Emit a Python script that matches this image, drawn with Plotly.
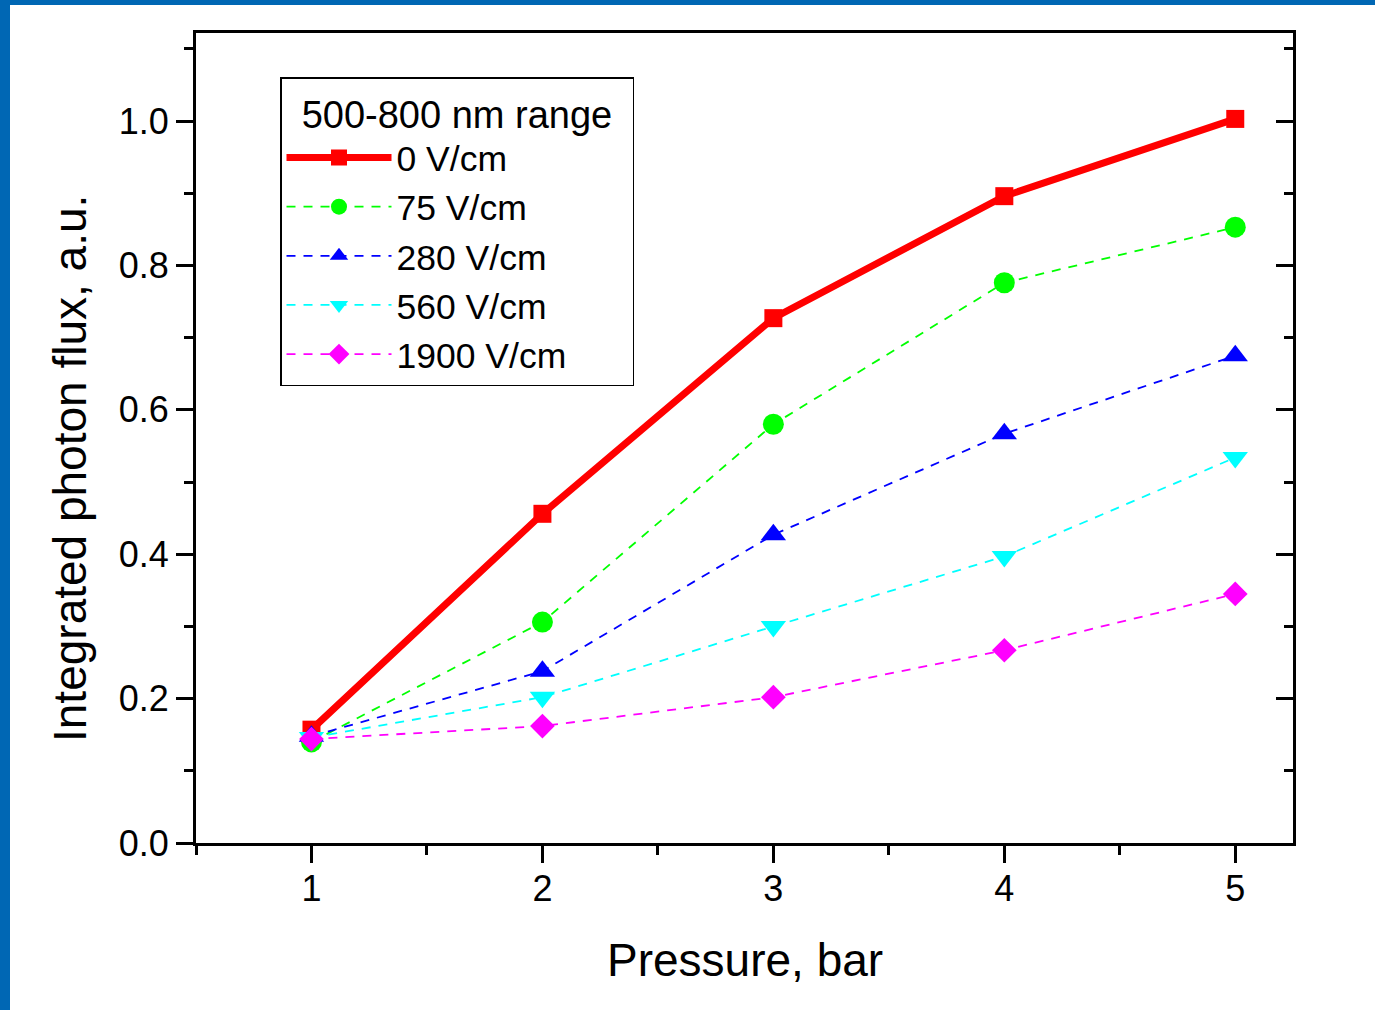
import plotly.graph_objects as go

pressure = [1, 2, 3, 4, 5]
series_names = ["0 V/cm", "75 V/cm", "280 V/cm", "560 V/cm", "1900 V/cm"]
flux_0 = [0.157, 0.456, 0.727, 0.896, 1.003]
flux_75 = [0.140, 0.306, 0.580, 0.776, 0.853]
flux_280 = [0.148, 0.238, 0.427, 0.567, 0.675]
flux_560 = [0.146, 0.202, 0.300, 0.397, 0.534]
flux_1900 = [0.144, 0.162, 0.202, 0.267, 0.345]
legend_title = "500-800 nm range"
x_title = "Pressure, bar"
y_title = "Integrated photon flux, a.u."

W, H = 1375, 1010
L, R, T, B = 196, 1293, 33, 843
FONT = "Arial, Liberation Sans, sans-serif"

styles = [
    dict(color="#FF0000", width=7, dash="solid", symbol="square", size=18),
    dict(color="#00FF00", width=1.8, dash="9px,8px", symbol="circle", size=21),
    dict(color="#0000FF", width=1.8, dash="9px,8px", symbol="triangle-up", size=22),
    dict(color="#00FFFF", width=1.8, dash="9px,8px", symbol="triangle-down", size=22),
    dict(color="#FF00FF", width=1.8, dash="9px,8px", symbol="diamond", size=19),
]
data = [flux_0, flux_75, flux_280, flux_560, flux_1900]

fig = go.Figure()
for name, ys, st in zip(series_names, data, styles):
    fig.add_trace(go.Scatter(
        x=pressure, y=ys, name=name, mode="lines+markers",
        line=dict(color=st["color"], width=st["width"], dash=st["dash"]),
        marker=dict(symbol=st["symbol"], size=st["size"], color=st["color"], line=dict(width=0)),
    ))
# empty trace to activate right-side mirrored tick axis
fig.add_trace(go.Scatter(x=[], y=[], yaxis="y2", showlegend=False, hoverinfo="skip"))

pw = R - L
ph = B - T
xmin, xmax = 0.5, 5.25
ymin, ymax = 0.0, 1.122

axis_common = dict(showgrid=False, zeroline=False, showline=True, linecolor="black", linewidth=3,
                   tickcolor="black", tickwidth=3, ticklen=17,
                   tickfont=dict(family=FONT, size=36, color="black"))

fig.update_layout(
    width=W, height=H,
    margin=dict(l=L, r=W - R, t=T, b=H - B, pad=0),
    paper_bgcolor="white", plot_bgcolor="white",
    font=dict(family=FONT, color="black"),
    xaxis=dict(range=[xmin, xmax], tickmode="linear", tick0=1, dtick=1, ticks="outside",
               mirror=True, ticklabelstandoff=-5,
               minor=dict(tick0=0.5, dtick=0.5, ticks="outside", ticklen=9, tickwidth=3, tickcolor="black"),
               **axis_common),
    yaxis=dict(range=[ymin, ymax], tickmode="linear", tick0=0, dtick=0.2, tickformat=".1f",
               ticks="outside", mirror=True, ticklabelstandoff=0,
               minor=dict(tick0=0, dtick=0.1, ticks="outside", ticklen=9, tickwidth=3, tickcolor="black"),
               **axis_common),
    yaxis2=dict(range=[ymin, ymax], overlaying="y", side="right", showticklabels=False,
                tickmode="linear", tick0=0, dtick=0.2, ticks="inside",
                showgrid=False, zeroline=False, showline=True, linecolor="black", linewidth=3,
                tickcolor="black", tickwidth=3, ticklen=17,
                minor=dict(tick0=0, dtick=0.1, ticks="inside", ticklen=9, tickwidth=3, tickcolor="black")),
    showlegend=True,
    legend=dict(
        x=(280 - L) / pw, y=(B - 77) / ph, xanchor="left", yanchor="top",
        bgcolor="white", bordercolor="black", borderwidth=1.5,
        font=dict(family=FONT, size=35.5, color="black"),
        title=dict(text="\u00a0\u2009" + legend_title + "\u00a0\u2009",
                   font=dict(family=FONT, size=38, color="black"), side="top"),
        itemwidth=105, tracegroupgap=0,
    ),
    annotations=[
        dict(text=x_title, xref="paper", yref="paper", x=(745 - L) / pw, y=(B - 960) / ph,
             xanchor="center", yanchor="middle", showarrow=False,
             font=dict(family=FONT, size=46, color="black")),
        dict(text=y_title, xref="paper", yref="paper", x=(70 - L) / pw, y=(B - 469) / ph,
             xanchor="center", yanchor="middle", showarrow=False, textangle=-90,
             font=dict(family=FONT, size=46, color="black")),
    ],
    shapes=[
        dict(type="rect", xref="paper", yref="paper", layer="above",
             x0=-L / pw, x1=(10 - L) / pw, y0=-(H - B) / ph, y1=(B + 0) / ph + 0.01,
             fillcolor="#0067B4", line=dict(width=0)),
        dict(type="rect", xref="paper", yref="paper", layer="above",
             x0=-L / pw, x1=(W - L) / pw, y0=(B - 5) / ph, y1=B / ph + 0.01,
             fillcolor="#0067B4", line=dict(width=0)),
    ],
)

fig.write_html("out.html", config={"displayModeBar": False},
               post_script="document.body.style.margin='0';document.body.style.padding='0';")
